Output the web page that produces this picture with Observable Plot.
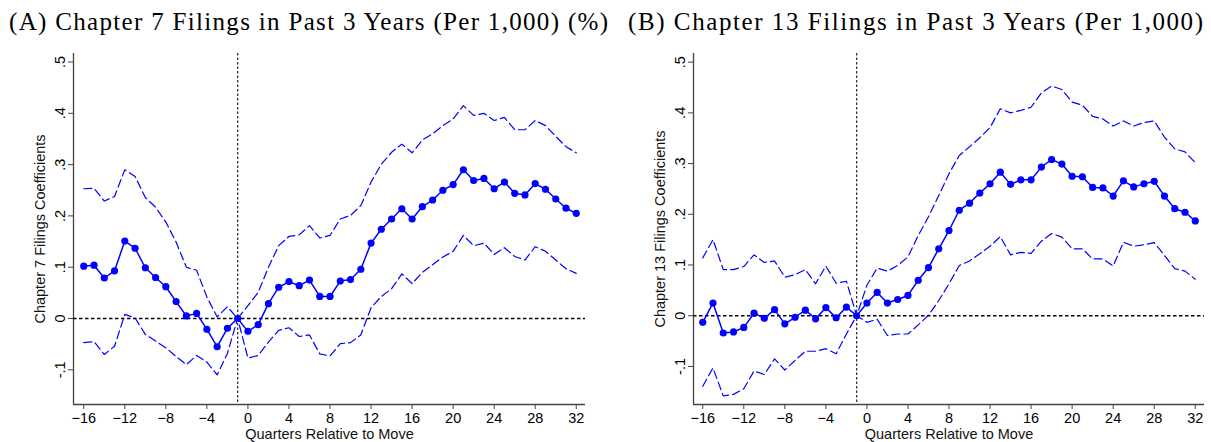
<!DOCTYPE html>
<html>
<head>
<meta charset="utf-8">
<script src="https://cdn.jsdelivr.net/npm/d3@7"></script>
<script src="https://cdn.jsdelivr.net/npm/@observablehq/plot@0.6"></script>
<style>
  html, body { margin: 0; padding: 0; background: #fff; }
  #chart { position: relative; width: 1211px; height: 442px; overflow: hidden; }
  #chart > svg, #chart > .panel { position: absolute; top: 0; }
</style>
</head>
<body>
<div id="chart"></div>
<script>
// Event-study coefficients: quarters relative to the move (-16 … 32)
const quarters = [-16,-15,-14,-13,-12,-11,-10,-9,-8,-7,-6,-5,-4,-3,-2,-1,
  0,1,2,3,4,5,6,7,8,9,10,11,12,13,14,15,16,17,18,19,20,21,22,23,24,25,26,27,28,29,30,31,32];

// Panel A: Chapter 7 filings
const ch7Coef = [0.102,0.104,0.079,0.093,0.151,0.137,0.099,0.080,0.062,0.033,0.005,0.010,-0.021,-0.055,-0.019,0,
  -0.025,-0.012,0.029,0.061,0.072,0.064,0.075,0.043,0.043,0.073,0.076,0.096,0.147,0.174,0.194,0.214,0.194,
  0.218,0.231,0.250,0.261,0.290,0.269,0.273,0.253,0.266,0.244,0.241,0.263,0.252,0.233,0.215,0.205];
const ch7Upper = [0.253,0.254,0.229,0.238,0.290,0.277,0.236,0.217,0.188,0.149,0.100,0.094,0.042,0.003,0.023,0,
  0.025,0.051,0.100,0.142,0.160,0.163,0.181,0.157,0.162,0.194,0.201,0.220,0.266,0.301,0.324,0.340,0.323,
  0.348,0.360,0.376,0.389,0.415,0.396,0.400,0.386,0.392,0.368,0.368,0.386,0.376,0.355,0.335,0.323];
const ch7Lower = [-0.047,-0.045,-0.070,-0.054,0.008,0.001,-0.031,-0.044,-0.057,-0.074,-0.090,-0.072,-0.085,-0.110,-0.068,0,
  -0.077,-0.072,-0.046,-0.023,-0.018,-0.035,-0.032,-0.069,-0.073,-0.049,-0.047,-0.032,0.021,0.043,0.058,0.087,0.068,
  0.090,0.105,0.120,0.131,0.162,0.142,0.147,0.125,0.138,0.121,0.114,0.140,0.131,0.114,0.097,0.088];

// Panel B: Chapter 13 filings
const ch13Coef = [-0.013,0.025,-0.034,-0.032,-0.023,0.005,-0.005,0.012,-0.016,-0.003,0.011,-0.006,0.016,-0.004,0.017,0,
  0.025,0.046,0.025,0.032,0.040,0.070,0.095,0.132,0.168,0.208,0.222,0.242,0.260,0.283,0.259,0.268,0.268,
  0.293,0.308,0.299,0.275,0.274,0.253,0.252,0.236,0.266,0.254,0.260,0.265,0.236,0.211,0.204,0.187];
const ch13Upper = [0.114,0.150,0.091,0.091,0.097,0.120,0.105,0.108,0.076,0.081,0.091,0.063,0.098,0.064,0.068,0,
  0.060,0.094,0.088,0.099,0.116,0.158,0.195,0.237,0.280,0.316,0.333,0.351,0.371,0.408,0.400,0.405,0.411,
  0.439,0.453,0.446,0.421,0.415,0.393,0.388,0.374,0.384,0.374,0.381,0.384,0.352,0.329,0.323,0.302];
const ch13Lower = [-0.139,-0.103,-0.158,-0.155,-0.144,-0.109,-0.116,-0.085,-0.107,-0.088,-0.070,-0.070,-0.065,-0.075,-0.036,0,
  -0.013,-0.007,-0.039,-0.036,-0.036,-0.018,0.001,0.030,0.063,0.099,0.108,0.122,0.137,0.156,0.120,0.125,0.123,
  0.147,0.162,0.155,0.132,0.132,0.112,0.112,0.098,0.145,0.137,0.140,0.144,0.119,0.093,0.088,0.072];

// Axis ticks and labels
const xTicks = [-16,-12,-8,-4,0,4,8,12,16,20,24,28,32];
const yTicks = [-0.1,0,0.1,0.2,0.3,0.4,0.5];
const yTickLabels = ["-.1","0",".1",".2",".3",".4",".5"];
const moveQuarter = -1;

const titles = [
  "(A) Chapter 7 Filings in Past 3 Years (Per 1,000) (%)",
  "(B) Chapter 13 Filings in Past 3 Years (Per 1,000)"
];
const yLabels = ["Chapter 7 Filings Coefficients", "Chapter 13 Filings Coefficients"];
const xLabel = "Quarters Relative to Move";

const BLUE = "#0000ff";
const sans = "'Liberation Sans', Arial, Helvetica, sans-serif";
const serif = "'Liberation Serif', 'Times New Roman', serif";

function panel({coef, upper, lower, yLabel, left, width, marginLeft, marginRight, xDomain, yDomain}) {
  const rows = quarters.map((q, i) => ({q, coef: coef[i], upper: upper[i], lower: lower[i]}));
  const yFmt = (d) => yTickLabels[yTicks.findIndex((t) => Math.abs(t - d) < 1e-9)];
  const svg = Plot.plot({
    width,
    height: 442,
    marginLeft,
    marginRight,
    marginTop: 53,
    marginBottom: 38,
    style: {fontFamily: sans, fontSize: "14.5px", color: "#000", background: "transparent"},
    x: {domain: xDomain},
    y: {domain: yDomain},
    marks: [
      // axis lines
      Plot.ruleX([xDomain[0]], {stroke: "#444", strokeWidth: 1.3}),
      Plot.ruleY([yDomain[0]], {stroke: "#444", strokeWidth: 1.3}),
      Plot.axisX({ticks: xTicks, tickSize: 5, tickPadding: 3, label: null, stroke: "#444", fontSize: 14.5}),
      Plot.axisY({ticks: yTicks, tickFormat: yFmt, tickRotate: -90, tickSize: 5, tickPadding: 4,
        label: null, stroke: "#444", fontSize: 14.5}),
      Plot.text([xLabel], {frameAnchor: "bottom", dy: 34.5, fontSize: 14.5, fill: "#111"}),
      Plot.text([yLabel], {frameAnchor: "left", textAnchor: "middle", dx: -33, rotate: -90,
        fontSize: 14.5, fill: "#111"}),
      // reference lines
      Plot.ruleY([0], {stroke: "#000", strokeWidth: 1.3, strokeDasharray: "3.5,2.5"}),
      Plot.ruleX([moveQuarter], {stroke: "#333", strokeWidth: 1.3, strokeDasharray: "2.5,2"}),
      // confidence bands
      Plot.line(rows, {x: "q", y: "upper", stroke: BLUE, strokeWidth: 1.2, strokeDasharray: "8,4"}),
      Plot.line(rows, {x: "q", y: "lower", stroke: BLUE, strokeWidth: 1.2, strokeDasharray: "8,4"}),
      // point estimates
      Plot.line(rows, {x: "q", y: "coef", stroke: BLUE, strokeWidth: 1.5}),
      Plot.dot(rows, {x: "q", y: "coef", r: 3.6, fill: BLUE, stroke: "none"})
    ]
  });
  svg.style.left = left + "px";
  svg.classList.add("panel");
  return svg;
}

const chart = document.getElementById("chart");

chart.appendChild(panel({
  coef: ch7Coef, upper: ch7Upper, lower: ch7Lower, yLabel: yLabels[0],
  left: 0, width: 605, marginLeft: 73, marginRight: 20,
  xDomain: [-17.0, 32.9], yDomain: [-0.1676, 0.5166]
}));
chart.appendChild(panel({
  coef: ch13Coef, upper: ch13Upper, lower: ch13Lower, yLabel: yLabels[1],
  left: 605, width: 606, marginLeft: 88, marginRight: 7,
  xDomain: [-16.9, 32.9], yDomain: [-0.175, 0.517]
}));

// Panel titles, set in a serif face and spaced across each panel's width
const ns = "http://www.w3.org/2000/svg";
const head = document.createElementNS(ns, "svg");
head.setAttribute("width", 1211);
head.setAttribute("height", 45);
head.style.left = "0px";
[[9, 599], [628, 575]].forEach(([x, len], i) => {
  const t = document.createElementNS(ns, "text");
  t.setAttribute("x", x);
  t.setAttribute("y", 29.5);
  t.setAttribute("font-family", serif);
  t.setAttribute("font-size", 25);
  t.setAttribute("fill", "#000");
  t.setAttribute("textLength", len);
  t.setAttribute("lengthAdjust", "spacing");
  t.textContent = titles[i];
  head.appendChild(t);
});
chart.appendChild(head);
</script>
</body>
</html>
